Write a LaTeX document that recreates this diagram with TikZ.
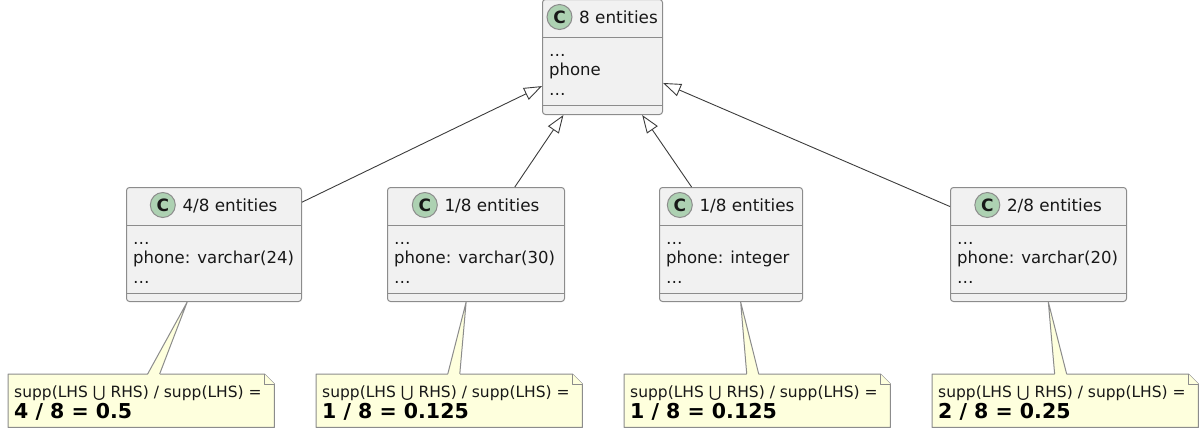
\documentclass[tikz,border=0pt]{standalone}
\usepackage{fontspec}
\setmainfont{DejaVu Sans}
\usetikzlibrary{arrows.meta,calc}

\definecolor{boxfill}{HTML}{F1F1F1}
\definecolor{boxline}{HTML}{8C8C8C}
\definecolor{edge}{HTML}{3C3C3C}
\definecolor{notefill}{HTML}{FEFFDD}
\definecolor{spot}{HTML}{ADD1B2}
\definecolor{textc}{HTML}{181818}

\tikzset{
  classbox/.style={draw=boxline, line width=1pt, fill=boxfill, rounded corners=3pt,
    inner sep=0pt, anchor=north west},
  classtitle/.style={font=\fontsize{16.8}{20}\selectfont, text=textc, anchor=base, inner sep=0pt},
  field/.style={font=\fontsize{16.5}{20}\selectfont, text=textc, anchor=base west, inner sep=0pt},
  spotc/.style={circle, draw=boxline, line width=1pt, fill=spot, minimum size=25pt,
    inner sep=0pt, text=textc, font=\fontsize{17}{17}\selectfont\bfseries},
  sepline/.style={draw=boxline, line width=1pt},
  inherit/.style={draw=edge, line width=0.9pt,
    -{Triangle[open, length=18pt, width=13pt]}},
  notebox/.style={minimum width=266pt, minimum height=53pt, inner sep=0pt,
    anchor=north west},
  noteshape/.style={draw=boxline, line width=1pt, fill=notefill, line join=round},
  noteone/.style={font=\fontsize{15.5}{18}\selectfont, text=textc, anchor=base west, inner sep=0pt},
  notetwo/.style={font=\fontsize{20.5}{24}\selectfont\bfseries, text=black, anchor=base west, inner sep=0pt},
  wedge/.style={draw=boxline, line width=1pt},
}

% class box: name, left, top, width, height, title, field, bottom gap
\newcommand\umlclass[8]{%
  \node[classbox, minimum width=#4pt, minimum height=#5pt] (#1) at (#2,#3) {};
  \draw[sepline] ([yshift=-38pt]#1.north west) -- ([yshift=-38pt]#1.north east);
  \draw[sepline] ([yshift=#8pt]#1.south west) -- ([yshift=#8pt]#1.south east);
  \node[classtitle] (#1-t) at ([xshift=16pt, yshift=-24pt]#1.north) {#6};
  \coordinate (#1-cy) at ([yshift=-18pt]#1.north);
  \node[spotc] (#1-c) at ($(#1-t.west |- #1-cy)+(-19.5,0)$) {C};
  \node[field] (#1-f1) at ([xshift=7pt, yshift=-57pt]#1.north west) {…};
  \node[field] (#1-f2) at ([xshift=7pt, yshift=-76.5pt]#1.north west) {#7};
  \node[field] (#1-f3) at ([xshift=7pt, yshift=-96pt]#1.north west) {…};
}

% note with folded corner: name, left, top, result
\newcommand\umlnote[4]{%
  \node[notebox] (#1) at (#2,#3) {};
  \draw[noteshape] (#1.north west) -- ([xshift=-10pt]#1.north east)
    -- ([yshift=-10pt]#1.north east) -- (#1.south east) -- (#1.south west) -- cycle;
  \draw[noteshape] ([xshift=-10pt]#1.north east) -- ([xshift=-10pt, yshift=-10pt]#1.north east)
    -- ([yshift=-10pt]#1.north east);
  \node[noteone] (#1-a) at ([xshift=6pt, yshift=-23pt]#1.north west)
    {supp(LHS ⋃ RHS) / supp(LHS) =};
  \node[notetwo] (#1-b) at ([xshift=6pt, yshift=-44pt]#1.north west) {#4};
}

% wedge-shaped anchor from a class to its note
\newcommand\notelink[2]{%
  \path (#1) -- (#2) coordinate[pos=0] (#1-#2-a) coordinate[pos=1] (#1-#2-w);
  \fill[notefill] ([xshift=-6pt, yshift=-1pt]#1-#2-w) -- (#1-#2-a)
    -- ([xshift=6pt, yshift=-1pt]#1-#2-w) -- cycle;
  \draw[wedge] ([xshift=-6pt]#1-#2-w) -- (#1-#2-a) -- ([xshift=6pt]#1-#2-w);
}

\begin{document}
\begin{tikzpicture}[x=1pt, y=-1pt]
  \useasboundingbox (0,0) rectangle (1204,432);

  % parent class
  \umlclass{top}{542}{-1}{120}{115}{8 entities}{phone}{10}

  % specialised classes
  \umlclass{b1}{126}{187}{175}{114}{4/8 entities}{phone: varchar(24)}{8.5}
  \umlclass{b2}{387}{187}{177}{114}{1/8 entities}{phone: varchar(30)}{8.5}
  \umlclass{b3}{659}{187}{143}{114}{1/8 entities}{phone: integer}{8.5}
  \umlclass{b4}{950}{187}{176}{114}{2/8 entities}{phone: varchar(20)}{8.5}

  % generalisation arrows
  \draw[inherit] (b1) -- (top);
  \draw[inherit] (b2) -- (top);
  \draw[inherit] (b3) -- (top);
  \draw[inherit] (b4) -- (top);

  % confidence notes
  \umlnote{n1}{8}{374}{4 / 8 = 0.5}
  \umlnote{n2}{316}{374}{1 / 8 = 0.125}
  \umlnote{n3}{624}{374}{1 / 8 = 0.125}
  \umlnote{n4}{932}{374}{2 / 8 = 0.25}

  \notelink{b1}{n1}
  \notelink{b2}{n2}
  \notelink{b3}{n3}
  \notelink{b4}{n4}
\end{tikzpicture}
\end{document}
